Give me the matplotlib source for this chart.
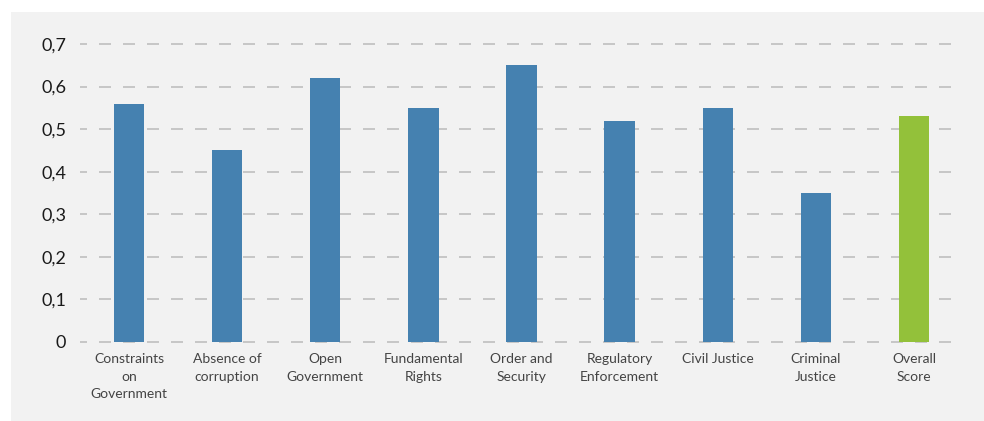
import matplotlib
matplotlib.use("Agg")
import matplotlib.pyplot as plt
from matplotlib.ticker import FuncFormatter

# factor scores
categories = ["Constraints\non\nGovernment", "Absence of\ncorruption", "Open\nGovernment",
              "Fundamental\nRights", "Order and\nSecurity", "Regulatory\nEnforcement",
              "Civil Justice", "Criminal\nJustice", "Overall\nScore"]
scores = [0.56, 0.45, 0.62, 0.55, 0.65, 0.52, 0.55, 0.35, 0.53]
bar_colors = ["#4581b0"] * 8 + ["#93c13a"]
y_ticks = [0, 0.1, 0.2, 0.3, 0.4, 0.5, 0.6, 0.7]

plt.rcParams["font.family"] = ["Lato", "DejaVu Sans"]

W, H = 984, 421
fig = plt.figure(figsize=(W / 100, H / 100), dpi=100)
fig.patch.set_facecolor("white")

# grey panel behind the chart
bg = fig.add_axes([11 / W, 0, 1 - 11 / W, 1 - 12 / H], zorder=0)
bg.set_facecolor("#f2f2f2")
bg.set_xticks([])
bg.set_yticks([])
for s in bg.spines.values():
    s.set_visible(False)

y0, top_val = 342, 0.72
px_per_unit = (342 - 44) / 0.7
ax = fig.add_axes([80 / W, (H - y0) / H, (963 - 80) / W, top_val * px_per_unit / H], zorder=1)
ax.set_facecolor("none")

x = range(len(categories))
ax.bar(x, scores, width=0.31, color=bar_colors, zorder=3)

ax.set_xlim(-0.5, 8.5)
ax.set_ylim(0, top_val)
ax.set_yticks(y_ticks)
ax.yaxis.set_major_formatter(FuncFormatter(lambda v, p: "0" if v == 0 else f"{v:.1f}".replace(".", ",")))
ax.set_xticks(list(x))
ax.set_xticklabels(categories, fontsize=10, color="#444444", linespacing=1.55)

# dashed guides, 12px dash / 12px gap
for v in y_ticks:
    ax.axhline(v, color="#bfbfbf", linewidth=1.2, linestyle=(3, (7.2, 7.2)), zorder=1, clip_on=False)

for s in ax.spines.values():
    s.set_visible(False)
ax.tick_params(axis="both", length=0)
ax.tick_params(axis="y", labelsize=13, labelcolor="#1a1a1a", pad=10)
ax.tick_params(axis="x", pad=8)

fig.savefig("out.png", dpi=100)
